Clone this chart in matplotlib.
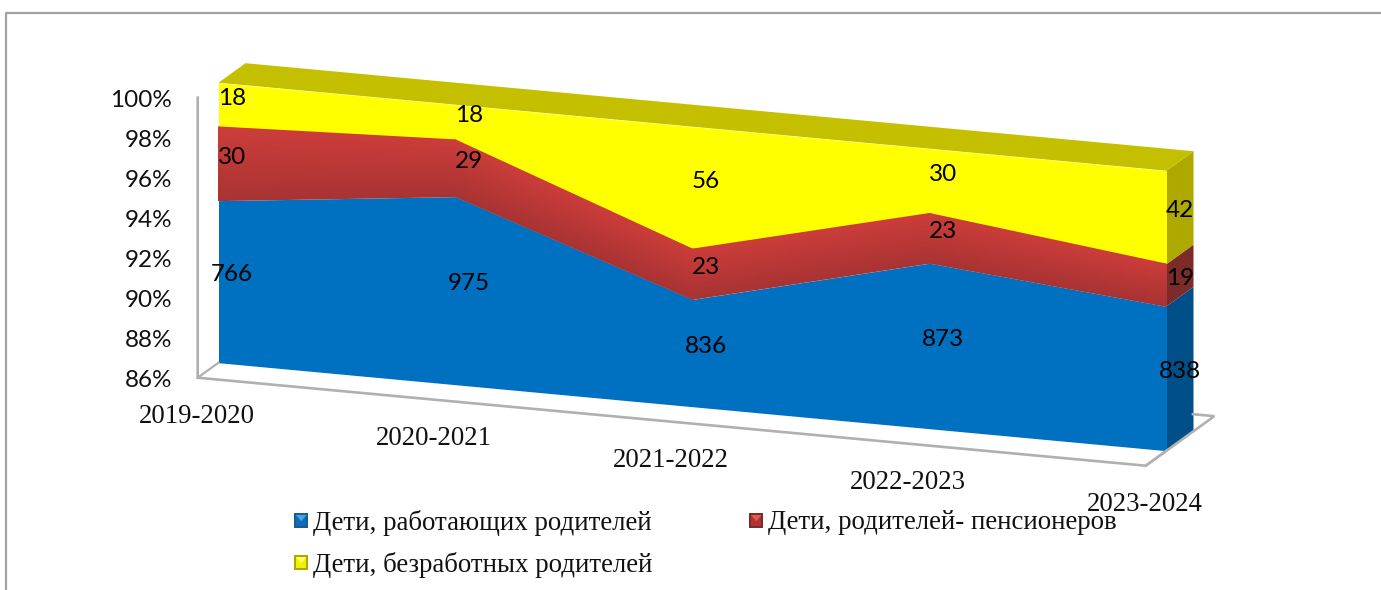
import numpy as np
import matplotlib
matplotlib.use('Agg')
import matplotlib.pyplot as plt
from matplotlib.colors import LinearSegmentedColormap

years = ['2019-2020', '2020-2021', '2021-2022', '2022-2023', '2023-2024']
working = [766, 975, 836, 873, 838]
pensioners = [30, 29, 23, 23, 19]
unemployed = [18, 18, 56, 30, 42]
names = ['Дети, работающих родителей', 'Дети, родителей- пенсионеров', 'Дети, безработных родителей']
pct_ticks = [86, 88, 90, 92, 94, 96, 98, 100]

serif = 'Liberation Serif'
sans = 'Lato'

# oblique projection of the 3d chart: category, percent, depth -> pixels
def project(i, p, d=0.0):
    i, p, d = np.asarray(i, float), np.asarray(p, float), np.asarray(d, float)
    return 218.5 + 237*i + 27*d, 362.7 + 22*i - 20*(p-86) - 19.5*d

f = plt.figure(figsize=(13.81, 5.9), dpi=100, facecolor='white')
ax = f.add_axes([0, 0, 1, 1])
ax.set_xlim(0, 1381)
ax.set_ylim(590, 0)
ax.axis('off')

# outer frame
ax.plot([6, 6, 1381], [590, 13, 13], color='#a3a3a3', lw=1.6, solid_capstyle='butt')

x = np.arange(len(years))
total = np.array(working) + np.array(pensioners) + np.array(unemployed)
p1 = 100*np.array(working)/total
p2 = p1 + 100*np.array(pensioners)/total
p3 = np.full(len(years), 100.0)
last = len(years) - 1
floor_d, grey = -0.77, '#b0b0b0'

# wall and floor
wx, wy = project([0, 0, last, last, last-0.09], [100, 86, 86, 86, 86], [floor_d, floor_d, floor_d, 1.77, 1.77])
ax.plot(wx, wy, color=grey, lw=1.9, solid_joinstyle='miter')
lx, ly = project([0, 0], [86, 86], [floor_d, 0])
ax.plot(lx, ly, color=grey, lw=1.6)
lx, ly = project([last, last], [86, 86], [floor_d, 0])
ax.plot(lx, ly, color=grey, lw=1.6)

# right side faces
def side(lo, hi, color):
    sx, sy = project([last, last, last, last], [lo, lo, hi, hi], [0, 1, 1, 0])
    ax.fill(sx, sy, color=color, lw=0)

side(86, p1[-1], '#004f88')
side(p1[-1], p2[-1], '#7d2a2a')
side(p2[-1], 100, '#aea900')

# top surface
tx0, ty0 = project(x, p3, 0)
tx1, ty1 = project(x, p3, 1)
ax.fill(np.r_[tx0, tx1[::-1]], np.r_[ty0, ty1[::-1]], color='#c4c000', lw=0)

# front faces
fx, base = project(x, np.full(len(years), 86.0))
_, y1 = project(x, p1)
_, y2 = project(x, p2)
_, y3 = project(x, p3)
ax.fill_between(fx, base, y1, color='#0070c0', lw=0)
ax.fill_between(fx, y2, y3, color='#ffff00', lw=0)
reds = LinearSegmentedColormap.from_list('reds', ['#a83333', '#cc3d3a'])
ax.pcolormesh(np.c_[fx, fx], np.c_[y1, y2], np.c_[np.zeros(len(x)), np.ones(len(x))],
              shading='gouraud', cmap=reds, vmin=0, vmax=1, rasterized=True)

# percent axis
for p in pct_ticks:
    tick_x, tick_y = project(0, p, floor_d)
    ax.text(172, tick_y+2.5, f'{p}%', family=sans, fontsize=17.5, ha='right', va='center', color='#111111')

# category labels
for i, y in enumerate(years):
    lab_x, lab_y = project(i, 86)
    ax.text(lab_x-21.5, lab_y+54, y, family=serif, fontsize=19.3, ha='center', va='center', color='#111111')

# value labels, centred in each band halfway into the depth
for vals, lo, hi in [(working, np.full(5, 86.0), p1), (pensioners, p1, p2), (unemployed, p2, p3)]:
    for i, v in enumerate(vals):
        vx, vy = project(i, (lo[i]+hi[i])/2, 0.5)
        ax.text(vx, vy+3, str(v), family=sans, fontsize=17.5, ha='center', va='center', color='black')

# legend with bevelled markers
def marker(x0, y0, dark, main, light):
    s = 14.5
    ax.fill([x0, x0+s, x0+s, x0], [y0, y0, y0+s, y0+s], color=dark, lw=0)
    ax.fill([x0+2, x0+s-2, x0+s-2, x0+2], [y0+2, y0+2, y0+s-2, y0+s-2], color=main, lw=0)
    ax.fill([x0+2, x0+s-2, x0+s/2], [y0+2, y0+2, y0+s/2+1], color=light, lw=0)

legend_pos = [(294, 520), (749, 520), (294, 562)]
legend_cols = [('#1c5c94', '#0f6cb8', '#4aa3e6'), ('#7d2a2a', '#b23432', '#dd5a55'), ('#a8a800', '#f0f000', '#ffff66')]
for name, (lx0, ly0), c in zip(names, legend_pos, legend_cols):
    marker(lx0, ly0-7, *c)
    ax.text(lx0+19, ly0+2.5, name, family=serif, fontsize=19.4, ha='left', va='center', color='#111111')

f.savefig('out.png', dpi=100)
